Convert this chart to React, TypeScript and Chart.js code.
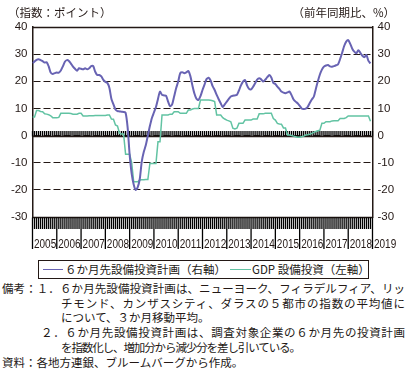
import { useEffect, useRef } from "react";
import { Chart, registerables } from "chart.js";

Chart.register(...registerables);

// Year tick labels (each separator marks January of that year)
const years = [2005, 2006, 2007, 2008, 2009, 2010, 2011, 2012, 2013, 2014, 2015, 2016, 2017, 2018, 2019];

// 6か月先設備投資計画 (right axis), monthly Jan 2005 – Dec 2018
const planIndex = [
  26.6, 27.3, 27.9, 28.1, 27.8, 27.4, 26.9, 27.0, 25.5, 23.2, 22.7, 23.0,
  23.2, 23.2, 24.0, 25.5, 27.2, 27.8, 27.5, 26.5, 25.4, 24.6, 23.9, 24.8,
  24.6, 24.4, 24.8, 24.4, 24.8, 25.6, 25.6, 23.5, 22.3, 22.3, 21.8, 20.5,
  19.8, 19.4, 17.5, 13.5, 11.5, 9.6, 9.0, 8.9, 8.8, 8.7, 8.4, 3.0,
  -7.0, -14.0, -18.0, -20.0, -19.0, -16.0, -9.5, -6.0, -3.5, 0.0, 3.5, 6.5,
  8.5, 10.5, 13.5, 16.2, 15.0, 14.8, 14.7, 12.5, 10.8, 11.5, 14.5, 17.5,
  19.9, 23.0, 23.3, 23.0, 23.3, 23.8, 21.9, 18.5, 15.5, 13.6, 13.1, 14.5,
  16.8, 18.8, 20.8, 21.3, 20.3, 18.2, 16.8, 15.0, 13.4, 11.9, 10.5, 11.5,
  12.5, 13.5, 14.4, 14.7, 14.8, 15.0, 16.6, 18.5, 19.9, 20.5, 18.5, 17.2,
  17.0, 18.0, 19.3, 20.6, 21.1, 20.7, 19.9, 20.6, 21.5, 22.3, 21.4, 19.4,
  19.0, 18.0, 17.2, 16.2, 15.8, 15.6, 15.9, 16.2, 14.9, 13.3, 12.5, 11.9,
  11.0, 10.0, 9.8, 9.9, 10.6, 12.0, 13.3, 14.3, 17.2, 20.0, 22.5, 24.3,
  25.4, 25.8, 26.0, 25.5, 25.4, 25.6, 25.9, 26.3, 28.2, 30.5, 33.0, 34.6,
  35.2, 33.8, 32.0, 30.9, 30.3, 31.4, 30.5, 29.4, 28.9, 29.7, 27.5, 26.6,
];

// GDP 設備投資 (left axis, 前年同期比 %), monthly Jan 2005 – Dec 2018
const gdpCapex = [
  6.8, 6.8, 9.2, 9.2, 8.9, 8.8, 8.0, 7.9, 7.7, 7.3, 6.6, 6.6,
  6.6, 6.7, 8.2, 8.2, 8.2, 8.2, 8.2, 8.1, 7.9, 7.9, 7.9, 8.2,
  8.2, 7.2, 7.2, 7.2, 7.3, 7.3, 7.3, 7.4, 7.4, 7.4, 7.4, 7.4,
  7.4, 7.6, 7.6, 6.1, 6.0, 3.9, 3.5, 0.8, 0.6, 0.6, -6.9, -6.9,
  -6.9, -10.0, -17.0, -17.0, -17.0, -16.4, -16.3, -16.3, -16.2, -16.2, -10.3, -10.3,
  -10.3, -10.3, -2.3, -2.3, 7.6, 7.6, 7.6, 7.6, 7.9, 7.9, 8.8, 8.8,
  8.8, 8.2, 8.2, 8.2, 8.2, 9.4, 9.4, 9.8, 10.0, 10.0, 10.0, 13.1,
  13.1, 13.1, 13.1, 13.1, 13.0, 12.8, 12.5, 7.6, 7.6, 7.6, 6.6, 6.1,
  5.7, 5.4, 5.1, 2.7, 2.4, 2.7, 4.5, 4.5, 4.5, 5.7, 5.7, 5.7,
  5.7, 6.1, 6.1, 6.1, 8.0, 8.0, 8.0, 8.2, 8.2, 8.2, 8.2, 6.3,
  5.7, 4.5, 4.3, 4.2, 2.8, 2.8, 0.2, 0.2, 0.0, -0.2, -0.4, -0.6,
  -0.6, -0.4, -0.2, 0.2, 0.3, 0.5, 0.8, 1.2, 1.5, 1.8, 2.0, 4.5,
  4.5, 5.1, 5.1, 5.1, 5.4, 5.5, 5.5, 5.5, 6.3, 6.3, 6.3, 6.6,
  7.2, 7.2, 7.2, 7.2, 7.2, 7.2, 7.2, 7.2, 7.2, 7.2, 7.2, 5.3,
];

const yMin = -30;
const yMax = 40;
const yStep = 10;

const PURPLE = "#6863b3";
const GREEN = "#62c3a3";
const TXT = "#231815";
const CJK = '"Noto Sans CJK JP", "Noto Sans", sans-serif';
const NUM = '"Liberation Sans", Arial, sans-serif';

const crisp = (v: number) => Math.round(v) + 0.5;

// one tick column per month (longer at each January), from y downwards by len (negative = upwards)
function monthTicks(ctx: CanvasRenderingContext2D, xs: any, y: number, h: number, yearH: number) {
  ctx.beginPath();
  for (let m = 0; m <= planIndex.length; m++) {
    const px = xs.getPixelForValue(m);
    const len = m % 12 === 0 ? yearH : h;
    ctx.moveTo(px, y);
    ctx.lineTo(px, y + len);
  }
  ctx.stroke();
}

const framePlugin = {
  id: "frame",
  beforeDatasetsDraw(chart: any) {
    const { ctx, chartArea: a, scales } = chart;
    const xs = scales.x;
    const ys = scales.y;
    const y0 = crisp(ys.getPixelForValue(0));
    ctx.save();
    ctx.setLineDash([]);
    ctx.strokeStyle = "#000";
    ctx.lineWidth = 1.3;
    monthTicks(ctx, xs, y0, -5.5, -5.5);
    ctx.strokeStyle = TXT;
    ctx.lineWidth = 1.5;
    ctx.beginPath();
    ctx.moveTo(a.left, y0);
    ctx.lineTo(a.right, y0);
    const top = crisp(ys.getPixelForValue(yMax));
    const bot = crisp(ys.getPixelForValue(yMin));
    ctx.moveTo(a.left, top);
    ctx.lineTo(a.right, top);
    ctx.moveTo(a.left, bot);
    ctx.lineTo(a.right, bot);
    ctx.stroke();
    ctx.restore();
  },
  afterDraw(chart: any) {
    const { ctx, scales } = chart;
    const xs = scales.x;
    const ys = scales.y;
    const bot = crisp(ys.getPixelForValue(yMin));
    ctx.save();
    ctx.setLineDash([]);
    ctx.strokeStyle = "#000";
    ctx.lineWidth = 1.3;
    monthTicks(ctx, xs, bot, 11.5, 31.5);
    // year labels, left-aligned just after each January separator
    ctx.fillStyle = TXT;
    ctx.font = `12.5px ${NUM}`;
    ctx.textAlign = "left";
    ctx.textBaseline = "alphabetic";
    years.forEach((yr, k) => {
      const px = xs.getPixelForValue(k * 12);
      ctx.save();
      ctx.translate(px + 1.5, bot + 30.5);
      ctx.scale(0.8, 1);
      ctx.fillText(String(yr), 0, 0);
      ctx.restore();
    });
    ctx.restore();
  },
};

function ChartCanvas() {
  const ref = useRef<HTMLCanvasElement>(null);
  useEffect(() => {
    if (!ref.current) return;
    const chart = new Chart(ref.current, {
      type: "line",
      data: {
        datasets: [
          {
            label: "６か月先設備投資計画（右軸）",
            data: planIndex.map((v, i) => ({ x: i, y: v })),
            borderColor: PURPLE,
            borderWidth: 2,
            pointRadius: 0,
            tension: 0.25,
            yAxisID: "y1",
            xAxisID: "x",
          },
          {
            label: "GDP 設備投資（左軸）",
            data: gdpCapex.map((v, i) => ({ x: i, y: v })),
            borderColor: GREEN,
            borderWidth: 1.5,
            pointRadius: 0,
            tension: 0,
            yAxisID: "y",
            xAxisID: "x",
          },
        ],
      },
      options: {
        animation: false,
        responsive: false,
        devicePixelRatio: 1,
        layout: { padding: { top: 27, bottom: 35, left: 0, right: 0 } },
        plugins: { legend: { display: false }, tooltip: { enabled: false } },
        scales: {
          x: {
            type: "linear",
            display: false,
            min: 0,
            max: planIndex.length,
          },
          y: {
            type: "linear",
            position: "left",
            min: yMin,
            max: yMax,
            ticks: { stepSize: yStep, padding: 5, color: TXT, font: { family: NUM, size: 11.5 } },
            grid: { display: true, drawOnChartArea: true, drawTicks: false, color: TXT, lineWidth: 1 },
            border: { display: true, color: TXT, width: 1.5, dash: [7, 3] },
            afterFit: (s: any) => { s.width = 32.5; },
          },
          y1: {
            type: "linear",
            position: "right",
            min: yMin,
            max: yMax,
            ticks: { stepSize: yStep, padding: 5, color: TXT, font: { family: NUM, size: 11.5 } },
            grid: { display: false, drawTicks: false },
            border: { display: true, color: TXT, width: 1.5 },
            afterFit: (s: any) => { s.width = 37.5; },
          },
        },
      },
      plugins: [framePlugin],
    } as any);
    return () => chart.destroy();
  }, []);
  return (
    <canvas
      ref={ref}
      width={410}
      height={252}
      style={{ position: "absolute", left: 0, top: 0, width: 410, height: 252, display: "block" }}
    />
  );
}

const noteLines: { text: string; left: number; width?: number; ls?: number }[] = [
  { text: "備考：１．６か月先設備投資計画は、ニューヨーク、フィラデルフィア、リッ", left: 2, width: 403 },
  { text: "チモンド、カンザスシティ、ダラスの５都市の指数の平均値に", left: 61, width: 344 },
  { text: "について、３か月移動平均。", left: 61 },
  { text: "２．６か月先設備投資計画は、調査対象企業の６か月先の投資計画", left: 41, width: 364 },
  { text: "を指数化し、増加分から減少分を差し引いている。", left: 61, ls: -1.1 },
  { text: "資料：各地方連銀、ブルームバーグから作成。", left: 2 },
];

export default function App() {
  const textBase: any = { position: "absolute", fontFamily: CJK, fontSize: 11.5, lineHeight: "15px", color: TXT, whiteSpace: "nowrap" };
  return (
    <div style={{ position: "absolute", left: 0, top: 0, width: 410, height: 376, background: "#fff", overflow: "hidden" }}>
      <ChartCanvas />
      <div style={{ ...textBase, left: 8, top: 5 }}>（指数：ポイント）</div>
      <div style={{ ...textBase, right: 15, top: 5 }}>（前年同期比、%）</div>
      <div
        style={{
          position: "absolute", left: 38, top: 260, width: 329, height: 17,
          border: `1px solid ${TXT}`, boxSizing: "content-box",
        }}
      >
        <div style={{ position: "absolute", left: 4, top: 8, width: 20, height: 0, borderTop: `1.2px solid ${PURPLE}` }} />
        <div style={{ ...textBase, left: 26, top: 1 }}>６か月先設備投資計画（右軸）</div>
        <div style={{ position: "absolute", left: 191, top: 8, width: 21, height: 0, borderTop: `1.2px solid ${GREEN}` }} />
        <div style={{ ...textBase, left: 213, top: 1 }}>GDP 設備投資（左軸）</div>
      </div>
      {noteLines.map((l, i) => (
        <div
          key={i}
          style={{
            ...textBase,
            left: l.left,
            top: 281 + i * 14.7,
            width: l.width,
            textAlign: l.width ? "justify" : "left",
            textAlignLast: l.width ? "justify" : "auto",
            letterSpacing: l.ls ? l.ls : undefined,
            whiteSpace: l.width ? "normal" : "nowrap",
          }}
        >
          {l.text}
        </div>
      ))}
    </div>
  );
}
